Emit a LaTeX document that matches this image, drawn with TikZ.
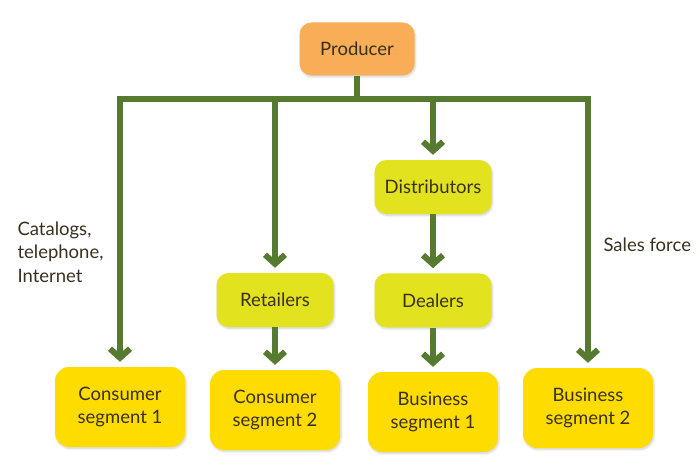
\documentclass[tikz,border=0pt]{standalone}
\usepackage{fontspec}
\setmainfont{Lato}
\usepackage{tikz}
\usetikzlibrary{positioning}
\usetikzlibrary{arrows.meta,shadows.blur}

\definecolor{flowgreen}{HTML}{567A2F}
\definecolor{prodorange}{HTML}{F9AD57}
\definecolor{midyellow}{HTML}{E2E31E}
\definecolor{segyellow}{HTML}{FFDC00}
\definecolor{inkbrown}{HTML}{3A3020}

\begin{document}
\begin{tikzpicture}[x=1pt,y=-1pt,
  every node/.style={text=inkbrown,font=\fontsize{18.5}{23.5}\selectfont},
  box/.style={rounded corners=12pt,inner sep=0pt,align=center,
    blur shadow={shadow blur steps=6,shadow xshift=1pt,shadow yshift=-1.5pt,shadow opacity=18}},
  prod/.style={box,fill=prodorange,minimum width=115pt,minimum height=53pt},
  mid/.style={box,fill=midyellow,minimum width=117pt,minimum height=54pt},
  seg/.style={box,fill=segyellow,minimum width=130pt,minimum height=80pt,rounded corners=14pt},
  flow/.style={draw=flowgreen,line width=6pt,-{Straight Barb[length=9pt,width=20pt]},shorten >=5pt},
  bar/.style={draw=flowgreen,line width=6pt}]
\useasboundingbox (0,0) rectangle (698,468);

\node[prod] (producer) at (357,49) {Producer};
\node[mid]  (distributors) at (433,187) {Distributors};
\node[mid]  (dealers) [below=59pt of distributors] {Dealers};
\node[mid]  (retailers) at (275,300) {Retailers};
\node[seg]  (cons1) at (120,407) {Consumer\\segment 1};
\node[seg]  (cons2) at (275,410) {Consumer\\segment 2};
\node[seg]  (bus1) at (433,412) {Business\\segment 1};
\node[seg]  (bus2) at (588,408) {Business\\segment 2};

\node[align=left,anchor=north west] (direct) at (14,218) {Catalogs,\\telephone,\\Internet};
\node[anchor=west] (salesforce) at (600,245) {Sales force};

% branching bar under the producer
\coordinate (hub) at (357,99);
\coordinate (toret) at (275,99);
\coordinate (todist) at (433,99);

\draw[bar] (producer.south) -- (hub);
\draw[flow] (hub) -| (cons1.north);
\draw[flow] (hub) -| (bus2.north);
\draw[flow] (toret) -- (retailers.north);
\draw[flow] (todist) -- (distributors.north);
\draw[flow] (distributors) -- (dealers);
\draw[flow] (retailers) -- (cons2);
\draw[flow] (dealers) -- (bus1);
\end{tikzpicture}
\end{document}
